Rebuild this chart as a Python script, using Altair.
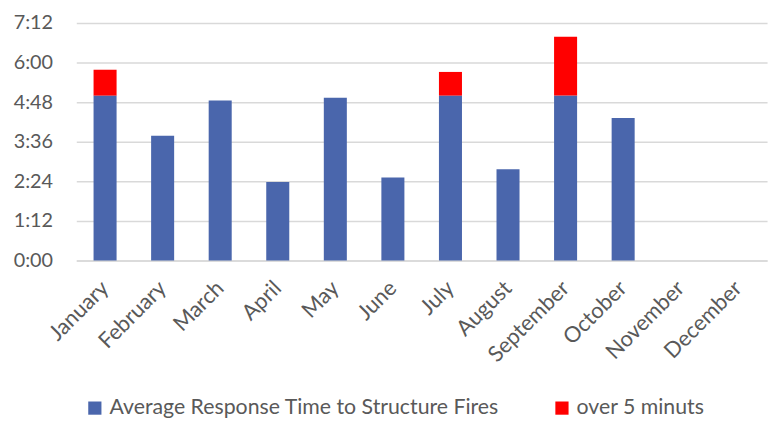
import altair as alt
import pandas as pd

months = ["January", "February", "March", "April", "May", "June", "July",
          "August", "September", "October", "November", "December"]
# response time in seconds (blue part capped at 5:00) and the excess over 5 minutes
base_seconds = [300, 227, 291, 143, 296, 151, 300, 166, 300, 259, None, None]
over_seconds = [47, 0, 0, 0, 0, 0, 43, 0, 107, 0, None, None]
series_names = ["Average Response Time to Structure Fires", "over 5 minuts"]
series_colors = ["#4A66AC", "#FF0000"]
y_ticks = [0, 72, 144, 216, 288, 360, 432]

rows = []
for m, b, o in zip(months, base_seconds, over_seconds):
    if b:
        rows.append({"month": m, "series": series_names[0], "seconds": b, "ord": 0})
    if o:
        rows.append({"month": m, "series": series_names[1], "seconds": o, "ord": 1})
df = pd.DataFrame(rows)

FONT = "Lato"
GREY = "#595959"
GRID = "#D9D9D9"

label_expr = ("floor(datum.value/60) + ':' + (datum.value % 60 < 10 ? '0' : '') + (datum.value % 60)")

chart = alt.Chart(df).mark_bar().encode(
    x=alt.X("month:N", sort=months,
            scale=alt.Scale(domain=months, paddingInner=0.6, paddingOuter=0.3),
            axis=alt.Axis(title=None, labelAngle=-45, labelAlign="right", labelBaseline="middle",
                          labelFontSize=22, labelFont=FONT, labelColor=GREY, ticks=False,
                          domainColor=GRID, domainWidth=1.5, labelPadding=24)),
    y=alt.Y("seconds:Q", stack="zero",
            scale=alt.Scale(domain=[0, 432], nice=False),
            axis=alt.Axis(title=None, values=y_ticks, labelExpr=label_expr, grid=True,
                          gridColor=GRID, gridWidth=1.5, domain=False, ticks=False,
                          labelFontSize=20, labelFont=FONT, labelColor=GREY, labelPadding=24)),
    color=alt.Color("series:N",
                    scale=alt.Scale(domain=series_names, range=series_colors),
                    legend=alt.Legend(orient="none", legendX=8, legendY=378, direction="horizontal",
                                      title=None, symbolType="square", symbolSize=178,
                                      symbolStrokeWidth=0, labelFontSize=21.5, labelFont=FONT,
                                      labelColor=GREY, labelOffset=4, columnPadding=52,
                                      labelLimit=600)),
    order=alt.Order("ord:Q"),
).properties(
    width=698, height=240,
    padding={"left": 69, "top": 13, "right": 6, "bottom": 160},
    autosize=alt.AutoSizeParams(type="none"),
).configure_view(stroke=None)

chart.save("out.html", embed_options={"renderer": "svg", "actions": False})
